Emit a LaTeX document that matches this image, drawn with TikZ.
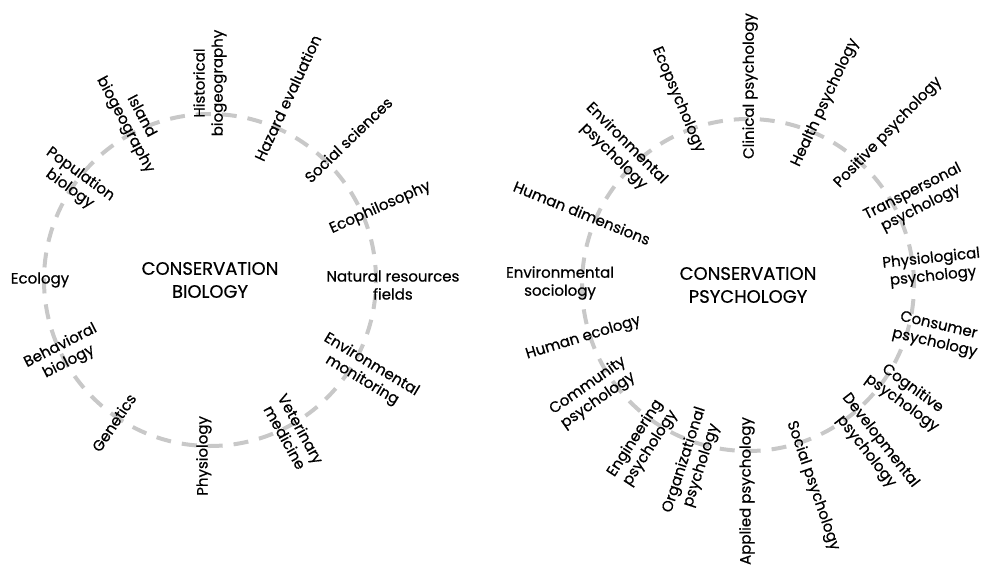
\documentclass[tikz,border=0pt]{standalone}
\usepackage{fontspec}
\setmainfont{Poppins}[FakeBold=0.6]
\usepackage{tikz}
\usetikzlibrary{calc}
\definecolor{ringgray}{RGB}{200,200,200}
\tikzstyle{ringline} = [draw=ringgray, line width=4pt, dash pattern=on 15pt off 11pt]
\tikzstyle{fieldlabel} = [align=center, inner sep=0pt, text=black]
\tikzstyle{corelabel} = [align=center, inner sep=0pt, text=black, font=\fontsize{18}{23}\selectfont]

\begin{document}
\begin{tikzpicture}[x=1pt, y=1pt, font=\fontsize{15}{18}\selectfont]

			\useasboundingbox (0,0) rectangle (984,566);
			\coordinate (bio) at (210,286);
			\coordinate (psy) at (748,281);

			\draw [ringline] (bio) circle [radius=166pt];
			\draw [ringline] (psy) circle [radius=166pt];

			% conservation biology
			\node (biocore) [corelabel] at (bio) {CONSERVATION\\BIOLOGY};
			\node (eco) [fieldlabel] at ($(bio)+(180:170pt)$) {Ecology};
			\node (behav) [fieldlabel, rotate=27] at ($(bio)+(207:163pt)$) {Behavioral\\biology};
			\node (gen) [fieldlabel, rotate=56] at ($(bio)+(236:172pt)$) {Genetics};
			\node (phys) [fieldlabel, rotate=90] at ($(bio)+(268:176pt)$) {Physiology};
			\node (vet) [fieldlabel, rotate=-61] at ($(bio)+(-61.5:174pt)$) {Veterinary\\medicine};
			\node (envmon) [fieldlabel, rotate=-31] at ($(bio)+(-30.6:182pt)$) {Environmental\\monitoring};
			\node (natres) [fieldlabel] at ($(bio)+(-1.6:183pt)$) {Natural resources\\fields};
			\node (ecophil) [fieldlabel, rotate=24] at ($(bio)+(23:185pt)$) {Ecophilosophy};
			\node (social) [fieldlabel, rotate=44] at ($(bio)+(45.4:197pt)$) {Social sciences};
			\node (hazard) [fieldlabel, rotate=65] at ($(bio)+(66.9:198pt)$) {Hazard evaluation};
			\node (hist) [fieldlabel, rotate=90] at ($(bio)+(90:197pt)$) {Historical\\biogeography};
			\node (island) [fieldlabel, rotate=-62] at ($(bio)+(115.8:177pt)$) {Island\\biogeography};
			\node (pop) [fieldlabel, rotate=-36] at ($(bio)+(144:167pt)$) {Population\\biology};

			% conservation psychology
			\node (psycore) [corelabel] at (psy) {CONSERVATION\\PSYCHOLOGY};
			\node (clin) [fieldlabel, rotate=90] at ($(psy)+(89.4:199pt)$) {Clinical psychology};
			\node (health) [fieldlabel, rotate=65] at ($(psy)+(67:198pt)$) {Health psychology};
			\node (pos) [fieldlabel, rotate=46] at ($(psy)+(47.4:207pt)$) {Positive psychology};
			\node (trans) [fieldlabel, rotate=27] at ($(psy)+(26.7:189pt)$) {Transpersonal\\psychology};
			\node (physio) [fieldlabel, rotate=6] at ($(psy)+(5.3:185pt)$) {Physiological\\psychology};
			\node (consum) [fieldlabel, rotate=-13] at ($(psy)+(-14.8:195pt)$) {Consumer\\psychology};
			\node (cogn) [fieldlabel, rotate=-36] at ($(psy)+(-34.9:194pt)$) {Cognitive\\psychology};
			\node (devel) [fieldlabel, rotate=-52] at ($(psy)+(-52.2:204pt)$) {Developmental\\psychology};
			\node (socpsy) [fieldlabel, rotate=-71] at ($(psy)+(-72.1:211pt)$) {Social psychology};
			\node (applied) [fieldlabel, rotate=90] at ($(psy)+(269.7:206pt)$) {Applied psychology};
			\node (org) [fieldlabel, rotate=72] at ($(psy)+(252.8:186pt)$) {Organizational\\psychology};
			\node (eng) [fieldlabel, rotate=57] at ($(psy)+(236.4:190pt)$) {Engineering\\psychology};
			\node (comm) [fieldlabel, rotate=35] at ($(psy)+(214.9:189pt)$) {Community\\psychology};
			\node (humeco) [fieldlabel, rotate=17] at ($(psy)+(197.8:173pt)$) {Human ecology};
			\node (envsoc) [fieldlabel] at ($(psy)+(179.4:188pt)$) {Environmental\\sociology};
			\node (humdim) [fieldlabel, rotate=-22] at ($(psy)+(156.5:181pt)$) {Human dimensions};
			\node (envpsy) [fieldlabel, rotate=-45] at ($(psy)+(133.5:186pt)$) {Environmental\\psychology};
			\node (ecopsy) [fieldlabel, rotate=-67] at ($(psy)+(110.7:198pt)$) {Ecopsychology};

\end{tikzpicture}
\end{document}
